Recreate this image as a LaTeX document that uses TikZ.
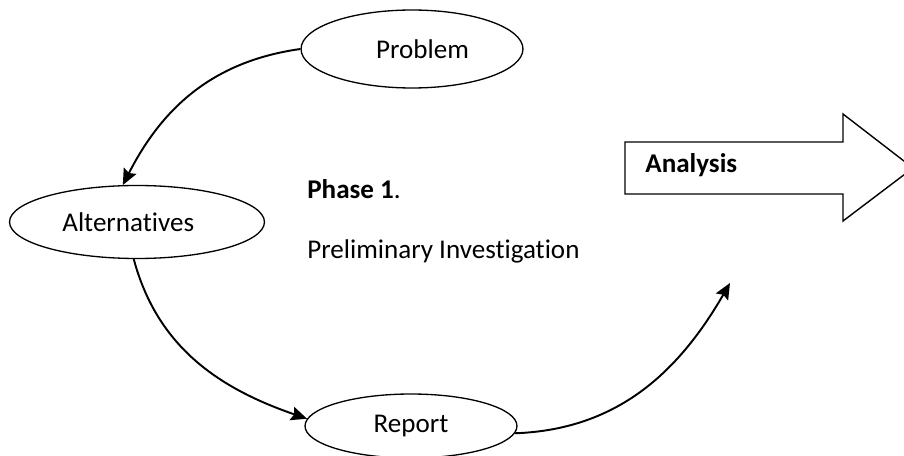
\documentclass[tikz,border=0pt]{standalone}
\usepackage{fontspec}
\setmainfont[Ligatures=NoCommon]{Carlito}
\usepackage{tikz}
\usetikzlibrary{arrows.meta,positioning,shapes.geometric}
\tikzset{
  ovalnd/.style={ellipse, draw, line width=0.75pt, inner sep=0pt},
  flowln/.style={-{Stealth[length=3.2mm,width=2.8mm,inset=0.5mm]}, line width=1.1pt},
  bigarrow/.style={draw, line width=0.8pt, line join=miter},
  lbl/.style={font=\fontsize{15.4}{18.5}\selectfont, inner sep=0pt},
}

\begin{document}
\begin{tikzpicture}[x=0.02cm, y=-0.02cm]
    \clip (0,0) rectangle (904,456);
    % ellipses
    \node[ovalnd, lbl, minimum width=4.44cm, minimum height=1.56cm] (problem) at (412,49) {\hspace*{12pt}Problem};
    \node[ovalnd, lbl, minimum width=5.10cm, minimum height=1.46cm] (alternatives) at (137,222) {Alternatives\hspace*{10pt}};
    \node[ovalnd, lbl, minimum width=4.24cm, minimum height=1.28cm] (report) at (411,426) {Report};
    % phase text
    \node[lbl, anchor=base west] (phase) at (307,199) {\textbf{Phase 1}.};
    \node[lbl, anchor=base west] (prelim) at (307,258) {Preliminary Investigation};
    % analysis arrow
    \draw[bigarrow] (625,142) -- (843,142) -- (843,114) -- (913,168) -- (843,221) -- (843,194) -- (625,194) -- cycle;
    \node[lbl, anchor=base west] (analysis) at (645,173) {\textbf{Analysis}};
    % cycle
    \coordinate (out) at (730,283);
    \draw[flowln] (problem.west) to[out=188, in=63] (alternatives.111);
    \draw[flowln] (alternatives.265) to[out=285, in=161] (report.176);
    \draw[flowln] (report.-4) to[out=2, in=240] (out);
  \end{tikzpicture}
\end{document}
